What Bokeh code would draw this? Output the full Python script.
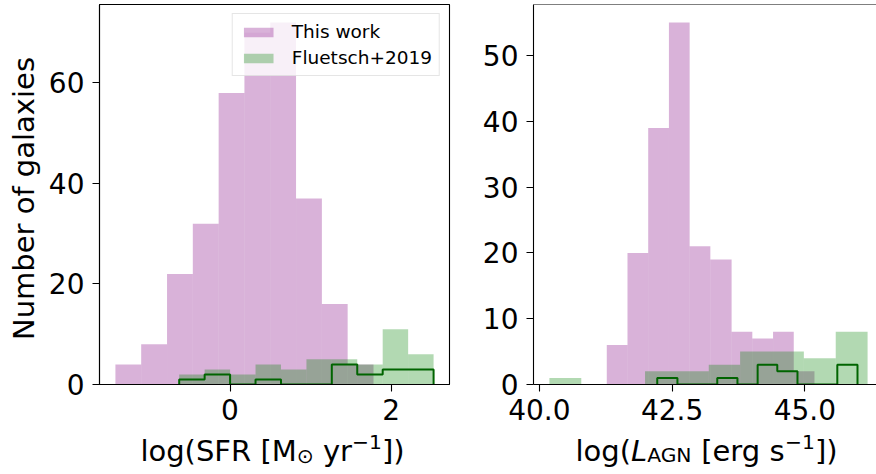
import numpy as np
from bokeh.plotting import figure
from bokeh.models import (Label, Span, FixedTicker, PrintfTickFormatter, Legend,
                          LegendItem, Range1d)
from bokeh.layouts import row, column
from bokeh.embed import file_html
from bokeh.resources import INLINE

# ---------------- data ----------------
# Left panel: log(SFR)
sfr_edges_this = [-1.423, -1.103, -0.782, -0.462, -0.141, 0.179, 0.500, 0.820, 1.141, 1.461, 1.782]
sfr_counts_this = [4, 8, 22, 32, 58, 70, 72, 37, 16, 4]
sfr_edges_f19 = [-0.631, -0.315, 0.001, 0.317, 0.633, 0.949, 1.264, 1.580, 1.896, 2.212, 2.528]
sfr_counts_f19 = [2, 3, 2, 4, 3, 5, 5, 4, 11, 6]
sfr_counts_f19_sub = [1, 2, 0, 1, 0, 0, 4, 2, 3, 3]

# Right panel: log(L_AGN)
lagn_edges_this = [41.27, 41.66, 42.05, 42.44, 42.83, 43.22, 43.62, 44.01, 44.40, 44.79, 45.18]
lagn_counts_this = [6, 20, 39, 55, 21, 19, 8, 7, 8, 2]
lagn_edges_f19 = [40.19, 40.79, 41.39, 41.99, 42.59, 43.19, 43.78, 44.38, 44.98, 45.58, 46.18]
lagn_counts_f19 = [1, 0, 0, 2, 2, 3, 5, 5, 4, 8]
lagn_edges_f19_sub = [42.22, 42.60, 42.97, 43.35, 43.73, 44.11, 44.48, 44.86, 45.24, 45.61, 45.99]
lagn_counts_f19_sub = [1, 0, 0, 1, 0, 3, 2, 0, 0, 3]

legend_labels = ["This work", "Fluetsch+2019"]
y_label = "Number of galaxies"
sfr_xticks = [0, 2]
sfr_yticks = [0, 20, 40, 60]
lagn_xticks = [40.0, 42.5, 45.0]
lagn_yticks = [0, 10, 20, 30, 40, 50]

# ---------------- styling / layout ----------------
PINK = "purple"
GREEN = "green"
STEP = "darkgreen"
FONT = "DejaVu Sans"
TICK_FS = "28px"
LAB_FS = 29
YSTRIP_W = 45
TOP_B, FRAME_H, BOT_B = 4, 380, 47
TOP_H = TOP_B + FRAME_H + BOT_B
XSTRIP_H = 472 - TOP_H
FW1 = 350
P1_L, P1_R = 52, 20
P2_L = 64
FW2 = 876 - (YSTRIP_W + P1_L + FW1 + P1_R) - P2_L

WID = {' ': 651, '(': 799, ')': 799, '[': 799, ']': 799, 'l': 569, 'o': 1253,
       'g': 1300, 'e': 1260, 'r': 842, 's': 1067, 'y': 1212, 'S': 1300, 'F': 1178,
       'R': 1423, 'M': 1767, 'A': 1401, 'G': 1590, 'N': 1532, 'L': 1141,
       '\u2212': 1716, '1': 1303, '\u2299': 1716}


def tw(s, fs):
    return sum(WID.get(c, 1250) for c in s) / 2048.0 * fs


def step_xy(edges, counts):
    xs, ys = [edges[0]], [0]
    for i, c in enumerate(counts):
        xs += [edges[i], edges[i + 1]]
        ys += [c, c]
    xs.append(edges[-1])
    ys.append(0)
    return xs, ys


def make_fig(xr, yr, fw, min_left, min_right):
    p = figure(frame_width=fw, frame_height=FRAME_H,
               min_border_left=min_left, min_border_right=min_right,
               min_border_top=TOP_B, min_border_bottom=BOT_B,
               x_range=Range1d(*xr), y_range=Range1d(*yr),
               output_backend="svg", toolbar_location=None)
    p.xgrid.visible = False
    p.ygrid.visible = False
    p.background_fill_color = "white"
    p.border_fill_color = "white"
    for ax in (p.xaxis[0], p.yaxis[0]):
        ax.major_tick_out = 7
        ax.major_tick_in = 0
        ax.minor_tick_line_color = None
        ax.major_tick_line_color = "black"
        ax.major_tick_line_width = 1.1
        ax.axis_line_color = "black"
        ax.axis_line_width = 1.1
        ax.major_label_text_font = FONT
        ax.major_label_text_font_size = TICK_FS
        ax.major_label_text_color = "black"
        ax.major_label_standoff = 8
    p.xaxis[0].major_label_standoff = 7
    return p


def strip(w, h):
    f = figure(frame_width=w, frame_height=h, min_border=0,
               x_range=Range1d(0, w), y_range=Range1d(0, h),
               x_axis_type=None, y_axis_type=None,
               output_backend="svg", toolbar_location=None)
    f.grid.visible = False
    f.outline_line_color = None
    f.background_fill_color = "white"
    f.border_fill_color = "white"
    return f


def add_rich(f, pieces, cx, base, fs):
    total = sum(tw(t, fs * sc) for t, sc, dy, st in pieces)
    x = cx - total / 2.0
    for t, sc, dy, st in pieces:
        if t.strip():
            f.add_layout(Label(x=x, y=base - dy, text=t, text_font=FONT,
                               text_font_size=f"{fs * sc:.1f}px", text_font_style=st,
                               text_align="left", text_baseline="alphabetic",
                               text_color="black"))
        x += tw(t, fs * sc)


def histo(p, edges, counts, color):
    return p.quad(left=edges[:-1], right=edges[1:], bottom=0, top=counts,
                  fill_color=color, fill_alpha=0.3, line_color=None)


# ---------------- left panel ----------------
lo = min(sfr_edges_this[0], sfr_edges_f19[0])
hi = max(sfr_edges_this[-1], sfr_edges_f19[-1])
pad = 0.05 * (hi - lo)
xr1 = (lo - pad, hi + pad)
yr1 = (0, 1.05 * max(max(sfr_counts_this), max(sfr_counts_f19)))
p1 = make_fig(xr1, yr1, FW1, P1_L, P1_R)
p1.outline_line_color = "black"
p1.outline_line_width = 1.1
r_this = histo(p1, sfr_edges_this, sfr_counts_this, PINK)
r_f19 = histo(p1, sfr_edges_f19, sfr_counts_f19, GREEN)
sx, sy = step_xy(sfr_edges_f19, sfr_counts_f19_sub)
p1.line(sx, sy, line_color=STEP, line_width=2)
p1.xaxis[0].ticker = FixedTicker(ticks=sfr_xticks)
p1.yaxis[0].ticker = FixedTicker(ticks=sfr_yticks)

legend = Legend(items=[LegendItem(label=legend_labels[0], renderers=[r_this]),
                       LegendItem(label=legend_labels[1], renderers=[r_f19])],
                location="top_right")
legend.margin = 9
legend.padding = 7
legend.spacing = 5
legend.glyph_width = 37
legend.glyph_height = 12
legend.label_standoff = 15
legend.label_height = 20
legend.label_text_font = FONT
legend.label_text_font_size = "18.5px"
legend.label_text_color = "black"
legend.border_line_color = "#cccccc"
legend.border_line_width = 1
legend.background_fill_color = "white"
legend.background_fill_alpha = 0.8
p1.add_layout(legend)

# ---------------- right panel ----------------
lo2 = min(lagn_edges_this[0], lagn_edges_f19[0], lagn_edges_f19_sub[0])
hi2 = max(lagn_edges_this[-1], lagn_edges_f19[-1], lagn_edges_f19_sub[-1])
pad2 = 0.05 * (hi2 - lo2)
full2 = (lo2 - pad2, hi2 + pad2)
# the reference panel is cut by the page edge: show only the visible part
xr2 = (full2[0], full2[0] + (full2[1] - full2[0]) * FW2 / 350.0)
yr2 = (0, 1.05 * max(max(lagn_counts_this), max(lagn_counts_f19)))
p2 = make_fig(xr2, yr2, FW2, P2_L, 0)
p2.outline_line_color = None
histo(p2, lagn_edges_this, lagn_counts_this, PINK)
histo(p2, lagn_edges_f19, lagn_counts_f19, GREEN)
sx2, sy2 = step_xy(lagn_edges_f19_sub, lagn_counts_f19_sub)
p2.line(sx2, sy2, line_color=STEP, line_width=2)
p2.xaxis[0].ticker = FixedTicker(ticks=lagn_xticks)
p2.xaxis[0].formatter = PrintfTickFormatter(format="%.1f")
p2.yaxis[0].ticker = FixedTicker(ticks=lagn_yticks)
p2.add_layout(Span(location=yr2[1], dimension="width", line_color="black", line_width=1.1))

# ---------------- label strips ----------------
ys = strip(YSTRIP_W, TOP_H)
ys.add_layout(Label(x=23, y=TOP_H - (TOP_B + FRAME_H / 2.0), text=y_label,
                    angle=np.pi / 2, text_align="center", text_baseline="alphabetic",
                    text_font=FONT, text_font_size=f"{LAB_FS}px", text_color="black"))

W_TOTAL = YSTRIP_W + P1_L + FW1 + P1_R + P2_L + FW2
xs_strip = strip(W_TOTAL, XSTRIP_H)
base = XSTRIP_H - (460 - TOP_H) + 10
c1 = YSTRIP_W + P1_L + FW1 / 2.0
c2 = YSTRIP_W + P1_L + FW1 + P1_R + P2_L + 175
add_rich(xs_strip, [("log(SFR [M", 1, 0, "normal"), ("\u2299", 0.7, 5, "normal"),
                    (" ", 1, 0, "normal"), ("yr", 1, 0, "normal"),
                    ("\u22121", 0.7, -8.5, "normal"), ("])", 1, 0, "normal")],
         c1, base, LAB_FS)
add_rich(xs_strip, [("log(", 1, 0, "normal"), ("L", 1, 0, "italic"),
                    ("AGN", 0.7, 4.5, "normal"), (" ", 1, 0, "normal"),
                    ("[erg s", 1, 0, "normal"), ("\u22121", 0.7, -8.5, "normal"),
                    ("])", 1, 0, "normal")],
         c2, base, LAB_FS)

layout = column(row(ys, p1, p2), xs_strip)
open("out.html", "w").write(file_html(layout, INLINE))
